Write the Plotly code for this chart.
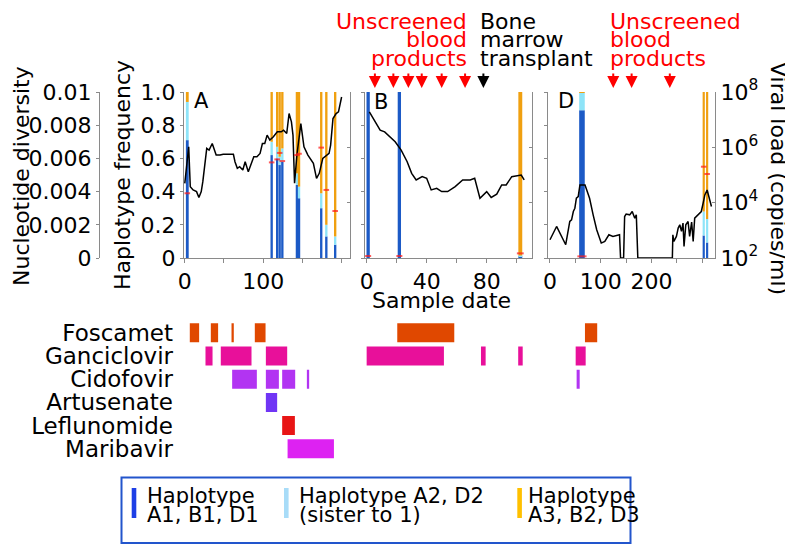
"""
CMV haplotypes, viral load and drug treatment timeline (panels A, B, D)
"""

import numpy as np
import plotly.graph_objects as go

# the page body has an 8px margin, so the figure starts at (8, 8) in the window
OFF = 8
W, H = 793 - OFF, 545 - OFF
FONT = "DejaVu Sans"
GRAY = "#8a8a8a"

# ---- haplotype frequencies per sample (1 = blue, 2 = light blue, 3 = orange)
a_days = [3.2, 110.8, 117.8, 121.0, 124.4, 143.0, 145.7, 174.0, 180.5, 191.8]
a_hap1 = [0.71, 0.62, 0.60, 0.56, 0.58, 0.44, 0.36, 0.30, 0.13, 0.08]
a_hap2 = [0.23, 0.08, 0.07, 0.05, 0.08, 0.07, 0.07, 0.09, 0.07, 0.05]
a_hap3 = [0.06, 0.30, 0.33, 0.39, 0.34, 0.49, 0.57, 0.61, 0.80, 0.87]
a_diversity = [0.0039, 0.00576, 0.00594, 0.00633, 0.00584, 0.0062, 0.00628, 0.00665, 0.0041, 0.00283]

b_days = [1.0, 21.8, 102.4]
b_hap1 = [1.0, 1.0, 0.01]
b_hap2 = [0.0, 0.0, 0.005]
b_hap3 = [0.0, 0.0, 0.985]
b_diversity = [0.00012, 0.00012, 0.00028]

d_days = [63.0, 302.8, 309.5]
d_hap1 = [0.89, 0.135, 0.094]
d_hap2 = [0.105, 0.145, 0.141]
d_hap3 = [0.005, 0.72, 0.765]
d_diversity = [0.0001, 0.0055, 0.00506]

# bar widths in days
a_width = [3.6, 3.0, 3.0, 3.0, 3.0, 3.0, 3.0, 3.0, 3.0, 3.0]
b_width = [2.2, 2.2, 2.6]
d_width = [11.0, 4.3, 4.3]

# ---- viral load (log10 copies/ml)
a_vl_day = [0, 5, 7, 10.6, 15, 18, 21, 23, 28, 31, 35, 40, 45, 49, 62, 64, 67, 70, 74, 77,
            81, 85, 88, 92, 96, 99, 102, 105, 108.5, 113, 118, 123, 126, 130, 133, 136, 138,
            140, 143, 148, 150, 152, 157, 164, 168, 171.5, 176, 181, 184, 186, 189, 193, 196, 200]
a_vl_log = [4.70, 6.02, 4.58, 4.46, 4.40, 4.19, 4.40, 4.76, 5.96, 5.90, 6.14, 5.72, 5.72, 5.75,
            5.75, 5.48, 5.24, 5.30, 5.18, 5.48, 5.12, 5.42, 5.66, 5.66, 5.78, 6.14, 6.14, 6.44,
            6.26, 6.38, 6.56, 6.56, 6.62, 6.50, 7.22, 6.92, 6.44, 4.70, 5.72, 6.86, 6.44, 6.02,
            5.72, 5.42, 4.88, 5.06, 5.60, 5.72, 5.78, 6.08, 7.04, 7.22, 7.28, 7.82]

b_vl_day = [1.8, 4.4, 6.7, 9, 12, 15.5, 19, 23, 27, 30, 33, 37, 40, 43, 46.7, 50, 54, 59, 64,
            69, 72, 75.5, 80, 83, 86.7, 90, 93, 96.7, 101, 103, 105]
b_vl_log = [7.28, 7.04, 6.86, 6.62, 6.56, 6.38, 6.20, 5.90, 5.48, 5.06, 4.82, 4.94, 4.88, 4.46,
            4.52, 4.40, 4.40, 4.58, 4.82, 4.82, 4.88, 4.16, 4.40, 4.19, 4.31, 4.64, 4.64, 4.94,
            5.00, 5.00, 4.82]

d_vl_day = [0, 13, 31, 36, 39, 42.5, 46, 49, 52, 55.6, 59, 69, 78, 85, 92, 101, 108, 116, 124,
            137, 139, 145, 147, 150, 157, 162, 167, 170, 173, 241, 242, 244, 249, 252.5, 255.7,
            259, 262, 264, 267.5, 272, 275, 279, 282, 285, 292, 298, 301.6, 305, 309.5, 313, 318]
d_vl_log = [2.66, 3.14, 2.48, 3.08, 3.32, 3.38, 3.68, 3.80, 4.16, 4.22, 4.64, 4.64, 4.16, 3.56,
            3.02, 2.54, 2.60, 2.84, 2.78, 2.84, 2.0, 2.0, 3.50, 3.59, 3.56, 3.68, 3.44, 3.56, 2.0,
            2.0, 2.84, 2.60, 2.78, 3.08, 3.20, 2.96, 3.26, 2.42, 3.20, 3.32, 2.78, 3.30, 2.60,
            3.44, 3.56, 3.68, 3.98, 4.28, 4.46, 4.22, 3.86]

# ---- events (days)
b_blood_days = [5.5, 17.8, 27.8, 36.7, 50.0, 65.6]
b_bmt_days = [77.8]
d_blood_days = [124.6, 160.8, 236.0]

# ---- drug courses
drug_names = ["Foscamet", "Ganciclovir", "Cidofovir", "Artusenate", "Leflunomide", "Maribavir"]
drug_colors = ["#E04800", "#E8109A", "#B234F2", "#7035F5", "#E81515", "#DD22F2"]

a_drug_row = [0, 0, 0, 0, 1, 1, 1, 2, 2, 2, 2, 3, 4, 5]
a_drug_start = [6.4, 33.2, 59.6, 89.3, 26.4, 45.9, 103.4, 60.4, 103.4, 124.2, 155.7, 103.4, 124.2, 131.1]
a_drug_end = [18.3, 42.5, 62.5, 103.0, 35.4, 85.1, 130.6, 91.9, 120.0, 140.8, 158.6, 117.8, 140.4, 190.2]
b_drug_row = [0, 1, 1, 1]
b_drug_start = [20.4, 0.0, 76.2, 101.0]
b_drug_end = [58.4, 51.5, 79.3, 104.0]
d_drug_row = [0, 1, 2]
d_drug_start = [68.9, 50.6, 52.5]
d_drug_end = [93.0, 70.3, 58.5]

freq_ticks = [0, 0.2, 0.4, 0.6, 0.8, 1.0]
freq_labels = ["0", "0.2", "0.4", "0.6", "0.8", "1.0"]
div_ticks = [0, 0.002, 0.004, 0.006, 0.008, 0.01]
div_labels = ["0", "0.002", "0.004", "0.006", "0.008", "0.01"]
vl_ticks = [1e2, 1e4, 1e6, 1e8]
vl_labels = ["10<sup>2</sup>", "10<sup>4</sup>", "10<sup>6</sup>", "10<sup>8</sup>"]

HAP_COLORS = ["#1C5AC6", "#8EE4F8", "#F0A010"]


def px_x(p):
    # window pixel -> paper fraction
    return (p - OFF) / W


def px_y(p):
    return 1 - (p - OFF) / H


panels = [
    dict(letter="A", n="", dom=(184, 350), rng=(-1, 210.7),
         tickvals=[0, 50, 100, 150, 200], ticktext=["0", "", "100", "", ""],
         days=a_days, haps=(a_hap1, a_hap2, a_hap3), width=a_width, div=a_diversity,
         vl=(a_vl_day, a_vl_log), drugs=(a_drug_row, a_drug_start, a_drug_end), letter_px=(201, 101)),
    dict(letter="B", n="2", dom=(365, 531.7), rng=(-1.1, 110),
         tickvals=[0, 20, 40, 60, 80, 100], ticktext=["0", "", "40", "", "80", ""],
         days=b_days, haps=(b_hap1, b_hap2, b_hap3), width=b_width, div=b_diversity,
         vl=(b_vl_day, b_vl_log), drugs=(b_drug_row, b_drug_start, b_drug_end), letter_px=(381, 102)),
    dict(letter="D", n="3", dom=(548.3, 715), rng=(-3.3, 325),
         tickvals=[0, 50, 100, 150, 200, 250, 300], ticktext=["0", "", "100", "", "200", "", ""],
         days=d_days, haps=(d_hap1, d_hap2, d_hap3), width=d_width, div=d_diversity,
         vl=(d_vl_day, d_vl_log), drugs=(d_drug_row, d_drug_start, d_drug_end), letter_px=(566, 101)),
]

freq_dom = [px_y(258), px_y(92)]
drug_dom = [px_y(460.4), px_y(321.2)]

fig = go.Figure()
layout = {}

for i, p in enumerate(panels):
    k = i + 1
    xname = "x" + p["n"]
    yf = "y" + p["n"]
    yv = f"y{k + 3}"
    yd = f"y{k + 6}"
    yr = f"y{k + 9}"
    px_per_day = (p["dom"][1] - p["dom"][0]) / (p["rng"][1] - p["rng"][0])

    # stacked haplotype bars
    base = np.zeros(len(p["days"]))
    for hap, color in zip(p["haps"], HAP_COLORS):
        fig.add_trace(go.Bar(x=p["days"], y=hap, base=base.copy(), width=p["width"],
                             marker=dict(color=color, line=dict(width=0)),
                             xaxis=xname, yaxis=yf, showlegend=False))
        base = base + np.array(hap)

    # viral load
    vd, vlog = p["vl"]
    fig.add_trace(go.Scatter(x=vd, y=10 ** np.array(vlog), mode="lines",
                             line=dict(color="black", width=1.5),
                             xaxis=xname, yaxis=yv, showlegend=False))

    # nucleotide diversity marks
    fig.add_trace(go.Scatter(x=p["days"], y=p["div"], mode="markers",
                             marker=dict(symbol="line-ew",
                                         size=[max(4, w * px_per_day + 1) for w in p["width"]],
                                         line=dict(color="#FF1A1A", width=2)),
                             xaxis=xname, yaxis=yd, showlegend=False))

    # drug courses
    rows, st, en = p["drugs"]
    fig.add_trace(go.Bar(orientation="h", y=rows, base=st,
                         x=list(np.array(en) - np.array(st)), width=0.82,
                         marker=dict(color=[drug_colors[r] for r in rows], line=dict(width=0)),
                         xaxis=xname, yaxis=yr, showlegend=False))

    tickfont = dict(family=FONT, size=22, color="black")
    common = dict(showgrid=False, zeroline=False, automargin=False)
    layout["xaxis" + p["n"]] = dict(
        domain=[px_x(p["dom"][0]), px_x(p["dom"][1])], range=list(p["rng"]), anchor=yf,
        tickmode="array", tickvals=p["tickvals"], ticktext=p["ticktext"],
        ticks="outside", ticklen=4, tickcolor=GRAY, showline=True, linecolor=GRAY,
        tickfont=tickfont, **common)
    layout["yaxis" + p["n"]] = dict(
        domain=freq_dom, range=[0, 1], anchor=xname, tickmode="array",
        tickvals=freq_ticks, ticktext=freq_labels, showticklabels=(i == 0),
        ticks="outside", ticklen=3, tickcolor=GRAY, showline=True, linecolor=GRAY,
        tickfont=tickfont, **common)
    layout[f"yaxis{k + 3}"] = dict(
        overlaying=yf, side="right", anchor=xname, type="log", range=[2, 8],
        tickmode="array", tickvals=vl_ticks, ticktext=vl_labels, showticklabels=(i == 2),
        ticks="inside", ticklen=3, tickcolor=GRAY, showline=True, linecolor=GRAY,
        tickfont=tickfont, **common)
    if i == 0:
        layout[f"yaxis{k + 6}"] = dict(
            overlaying=yf, anchor="free", position=px_x(99), side="left", range=[0, 0.01],
            tickmode="array", tickvals=div_ticks, ticktext=div_labels,
            ticks="outside", ticklen=3, tickcolor=GRAY, showline=True, linecolor=GRAY,
            tickfont=tickfont, **common)
    else:
        layout[f"yaxis{k + 6}"] = dict(overlaying=yf, anchor=xname, range=[0, 0.01],
                                      visible=False, **common)
    layout[f"yaxis{k + 9}"] = dict(
        domain=drug_dom, range=[5.5, -0.5], anchor=xname, tickmode="array",
        tickvals=list(range(len(drug_names))), ticktext=drug_names, showticklabels=(i == 0),
        ticks="", ticklabelstandoff=10, showline=False,
        tickfont=dict(family=FONT, size=23, color="black"), **common)

annotations = []


def label(text, x, y, size=22, color="black", xanchor="center", angle=0):
    annotations.append(dict(text=text, x=px_x(x), y=px_y(y), xref="paper", yref="paper",
                            xanchor=xanchor, yanchor="middle", showarrow=False, textangle=angle,
                            borderpad=0, font=dict(family=FONT, size=size, color=color)))


for p in panels:
    label(p["letter"], p["letter_px"][0], p["letter_px"][1], size=21)

label("Nucleotide diversity", 21, 176, angle=-90)
label("Haplotype frequency", 123, 175, angle=-90)
label("Viral load (copies/ml)", 779, 178, angle=90)
label("Sample date", 441, 300)

# stacked event captions (top line kept inside the figure area)
caption_y = [21, 39.5, 58]
for y, line in zip(caption_y, ["Unscreened", "blood", "products"]):
    label(line, 468, y, color="red", xanchor="right")
    label(line, 609, y, color="red", xanchor="left")
for y, line in zip(caption_y, ["Bone", "marrow", "transplant"]):
    label(line, 479, y, xanchor="left")

for days, xref, color in [(b_blood_days, "x2", "red"), (b_bmt_days, "x2", "black"),
                          (d_blood_days, "x3", "red")]:
    for d in days:
        annotations.append(dict(text="", x=d, xref=xref, y=px_y(88), yref="paper",
                                ax=0, ay=-16, showarrow=True, arrowhead=2, arrowsize=1.2,
                                arrowwidth=2, arrowcolor=color))

# legend box
shapes = [dict(type="rect", xref="paper", yref="paper", x0=px_x(121.5), x1=px_x(630.5),
               y0=px_y(543), y1=px_y(477.5), line=dict(color="#2255CC", width=2))]
legend_items = [
    ("#1E3FE6", 131.7, 145.5, ["Haplotype", "A1, B1, D1"]),
    ("#A8DCF8", 284.0, 297.5, ["Haplotype A2, D2", "(sister to 1)"]),
    ("#FFC000", 517.3, 526.5, ["Haplotype", "A3, B2, D3"]),
]
for color, sx, tx, lines in legend_items:
    shapes.append(dict(type="rect", xref="paper", yref="paper", x0=px_x(sx), x1=px_x(sx + 4.6),
                       y0=px_y(518), y1=px_y(488), fillcolor=color, line=dict(width=0)))
    label(lines[0], tx, 496, size=21, xanchor="left")
    label(lines[1], tx, 515, size=21, xanchor="left")

fig.update_layout(
    template="none",
    width=W, height=H, margin=dict(l=0, r=0, t=0, b=0, pad=0),
    paper_bgcolor="white", plot_bgcolor="white", barmode="overlay",
    showlegend=False, annotations=annotations, shapes=shapes,
    font=dict(family=FONT, size=22, color="black"),
    **layout
)

fig.write_html("out.html")
